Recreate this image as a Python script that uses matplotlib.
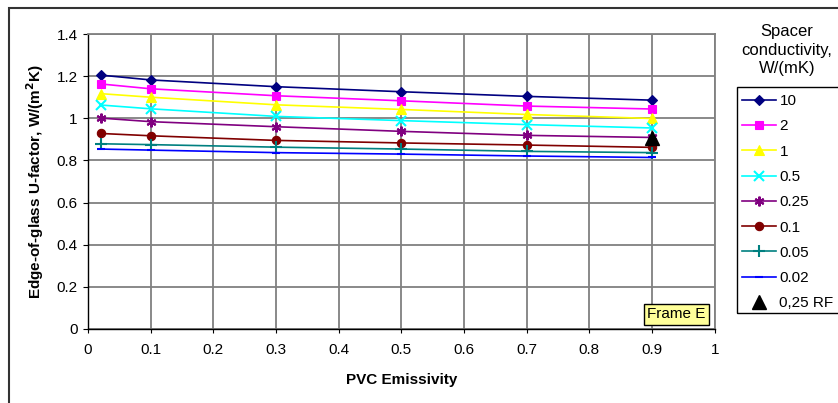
import matplotlib
matplotlib.use("Agg")
import matplotlib.pyplot as plt
from matplotlib.patches import Rectangle

plt.rcParams['font.family'] = ['Liberation Sans', 'DejaVu Sans']

emissivity = [0.02, 0.1, 0.3, 0.5, 0.7, 0.9]
labels = ["10", "2", "1", "0.5", "0.25", "0.1", "0.05", "0.02"]
u_10 = [1.205, 1.182, 1.150, 1.126, 1.104, 1.086]
u_2 = [1.163, 1.140, 1.107, 1.083, 1.058, 1.044]
u_1 = [1.117, 1.100, 1.064, 1.042, 1.018, 0.999]
u_05 = [1.063, 1.045, 1.009, 0.989, 0.970, 0.954]
u_025 = [1.001, 0.984, 0.960, 0.938, 0.919, 0.909]
u_01 = [0.928, 0.917, 0.895, 0.883, 0.873, 0.862]
u_005 = [0.879, 0.875, 0.863, 0.854, 0.843, 0.837]
u_002 = [0.854, 0.849, 0.837, 0.830, 0.821, 0.814]
rf_x = [0.9]
rf_y = [0.908]
rf_label = "0,25 RF"

series = [u_10, u_2, u_1, u_05, u_025, u_01, u_005, u_002]
colors = ["#000080", "#FF00FF", "#FFFF00", "#00FFFF", "#800080", "#800000", "#008080", "#0000FF"]
markers = ["D", "s", "^", "x", (6, 2, 0), "o", "+", "_"]
msizes = [5, 6, 7, 7, 7, 6, 8, 6]

fig = plt.figure(figsize=(8.38, 4.03), dpi=100)
W, H = 838, 403
ax = fig.add_axes([88 / W, 1 - 329 / H, (714.7 - 88) / W, (329 - 34) / H])

handles = []
for ys, c, m, ms, lab in zip(series, colors, markers, msizes, labels):
    h, = ax.plot(emissivity, ys, color=c, marker=m, markersize=ms, lw=1.2,
                 markeredgewidth=1.5 if m in ("x", "+", "_", (6, 2, 0)) else 0.8,
                 markeredgecolor=c, label=lab, zorder=3)
    handles.append(h)
h, = ax.plot(rf_x, rf_y, linestyle="none", marker="^", color="black",
             markersize=10, label=rf_label, zorder=4)
handles.append(h)

ax.set_xlim(0, 1)
ax.set_ylim(0, 1.4)
ax.set_xticks([i / 10 for i in range(11)])
ax.set_xticklabels(["0", "0.1", "0.2", "0.3", "0.4", "0.5", "0.6", "0.7", "0.8", "0.9", "1"])
ax.set_yticks([0, 0.2, 0.4, 0.6, 0.8, 1.0, 1.2, 1.4])
ax.set_yticklabels(["0", "0.2", "0.4", "0.6", "0.8", "1", "1.2", "1.4"])
ax.grid(True, color="#808080", lw=1.3, zorder=0)
ax.set_axisbelow(True)
for s in ("top", "right"):
    ax.spines[s].set_color("#808080")
    ax.spines[s].set_linewidth(1.3)
for s in ("left", "bottom"):
    ax.spines[s].set_color("black")
    ax.spines[s].set_linewidth(1.0)
ax.tick_params(axis="x", length=3, pad=7, labelsize=11, direction="out")
ax.tick_params(axis="y", length=3.5, pad=4, labelsize=11, direction="out")

ax.set_xlabel("PVC Emissivity", fontsize=11, fontweight="bold")
ax.set_ylabel("Edge-of-glass U-factor, W/(m$^\\mathbf{2}$K)", fontsize=11, fontweight="bold")
ax.xaxis.set_label_coords(0.5, -0.149)
ax.yaxis.set_label_coords(-0.067, 0.5)

ax.text(676.5 / W, 1 - 314.5 / H, "Frame E", transform=fig.transFigure, fontsize=11,
        ha="center", va="center",
        bbox=dict(boxstyle="square,pad=0.22", facecolor="#FFFF99", edgecolor="black", lw=1))

# legend title
fig.text(787 / W, 1 - 50 / H, "Spacer\nconductivity,\nW/(mK)", ha="center", va="center",
         fontsize=12, linespacing=1.3)
# legend
fig.legend(handles=handles, loc="upper left", bbox_to_anchor=(742 / W, 1 - 94 / H),
           frameon=False, fontsize=11, handlelength=2.25, handletextpad=0.2,
           labelspacing=0.74, borderpad=0, borderaxespad=0)
fig.patches.append(Rectangle((737 / W, 1 - 313 / H), 120 / W, (313 - 87) / H,
                             transform=fig.transFigure, fill=False, edgecolor="black",
                             lw=1, clip_on=False))
# outer border
fig.patches.append(Rectangle((9 / W, -0.1), 1.2, 1.1 - 8 / H, transform=fig.transFigure,
                             fill=False, edgecolor="#333333", lw=1.5, clip_on=False))

fig.savefig("out.png", dpi=100)
